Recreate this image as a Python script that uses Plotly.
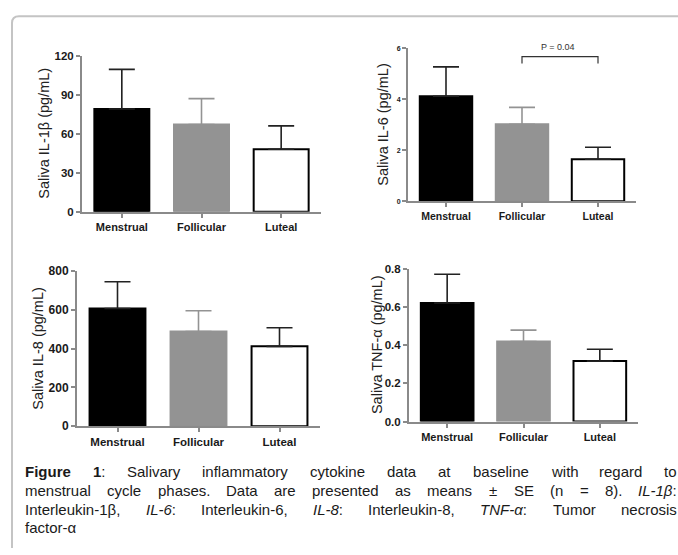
import re
import plotly.graph_objects as go

W, H = 678, 555

phases = ["Menstrual", "Follicular", "Luteal"]

il1b_mean = [79, 67, 48]
il1b_se = [30.5, 20, 18]
il6_mean = [4.12, 3.02, 1.65]
il6_se = [1.15, 0.66, 0.47]
il8_mean = [607, 488, 412]
il8_se = [138, 108, 96]
tnfa_mean = [0.62, 0.418, 0.316]
tnfa_se = [0.15, 0.06, 0.062]

il1b_ticks = [0, 30, 60, 90, 120]
il6_ticks = [0, 2, 4, 6]
il8_ticks = [0, 200, 400, 600, 800]
tnfa_ticks = [0.0, 0.2, 0.4, 0.6, 0.8]

p_label = "P = 0.04"

caption_lines = [
    "<b>Figure</b> <b>1</b>: Salivary inflammatory cytokine data at baseline with regard to",
    "menstrual cycle phases. Data are presented as means ± SE (n = 8). <i>IL-1β</i>:",
    "Interleukin-1β, <i>IL-6</i>: Interleukin-6, <i>IL-8</i>: Interleukin-8, <i>TNF-α</i>: Tumor necrosis",
    "factor-α",
]

fill_colors = ["#000000", "#939393", "#ffffff"]
line_colors = ["#000000", "#939393", "#000000"]
err_colors = ["#222222", "#939393", "#222222"]


def px(x):
    return x / W


def py(y):
    return 1 - y / H


panels = [
    dict(mean=il1b_mean, se=il1b_se, ticks=il1b_ticks, rng=[0, 120], fmt="",
         xd=(82, 321), yd=(50, 210), title="Saliva IL-1β (pg/mL)", tx=44,
         tickfs=11.5, catfs=11),
    dict(mean=il6_mean, se=il6_se, ticks=il6_ticks, rng=[0, 6], fmt="",
         xd=(408, 636), yd=(42.3, 199.3), title="Saliva IL-6 (pg/mL)", tx=383,
         tickfs=7, catfs=10.5),
    dict(mean=il8_mean, se=il8_se, ticks=il8_ticks, rng=[0, 800], fmt="",
         xd=(77, 320), yd=(271, 430), title="Saliva IL-8 (pg/mL)", tx=38,
         tickfs=12, catfs=11.5),
    dict(mean=tnfa_mean, se=tnfa_se, ticks=tnfa_ticks, rng=[0, 0.8], fmt=".1f",
         xd=(409, 638), yd=(268.3, 425.3), title="Saliva TNF-α (pg/mL)", tx=377,
         tickfs=11.5, catfs=11),
]

fig = go.Figure()
layout = dict(
    width=W, height=H, margin=dict(l=0, r=0, t=0, b=0),
    paper_bgcolor="white", plot_bgcolor="white",
    barmode="overlay", showlegend=False,
    font=dict(family="Liberation Sans, Arial, sans-serif", color="#222222"),
)
annotations = []
shapes = []

axis_col = "#8a8a8a"
for i, p in enumerate(panels):
    n = i + 1
    xa = "x" if n == 1 else f"x{n}"
    ya = "y" if n == 1 else f"y{n}"
    for j, ph in enumerate(phases):
        fig.add_trace(go.Bar(
            x=[ph], y=[p["mean"][j]], xaxis=xa, yaxis=ya, width=0.69,
            marker=dict(color=fill_colors[j], line=dict(color=line_colors[j], width=2)),
            error_y=dict(type="data", symmetric=False, array=[p["se"][j]], arrayminus=[0],
                         color=err_colors[j], thickness=1.6, width=13),
            hoverinfo="skip",
        ))
    layout["xaxis" if n == 1 else f"xaxis{n}"] = dict(
        domain=[px(p["xd"][0]), px(p["xd"][1])], anchor=ya,
        type="category", categoryorder="array", categoryarray=phases,
        range=[-0.5, 2.5], showline=True, linecolor=axis_col, linewidth=2,
        ticks="outside", ticklen=4, tickwidth=1.5, tickcolor=axis_col,
        showgrid=False, zeroline=False,
        tickfont=dict(size=p["catfs"], weight="bold", color="#1a1a1a"),
    )
    layout["yaxis" if n == 1 else f"yaxis{n}"] = dict(
        domain=[py(p["yd"][1]), py(p["yd"][0])], anchor=xa,
        range=p["rng"], tickvals=p["ticks"], tickformat=p["fmt"],
        showline=True, linecolor=axis_col, linewidth=2,
        ticks="outside", ticklen=4, tickwidth=1.5, tickcolor=axis_col,
        showgrid=False, zeroline=False,
        tickfont=dict(size=p["tickfs"], weight="bold", color="#1a1a1a"),
    )
    annotations.append(dict(
        text=p["title"], xref="paper", yref="paper",
        x=px(p["tx"]), y=py((p["yd"][0] + p["yd"][1]) / 2),
        textangle=-90, showarrow=False, font=dict(size=14.5, color="#222222"),
        xanchor="center", yanchor="middle",
    ))

# significance bracket on IL-6 panel
b_top, b_bot = 5.67, 5.4
shapes.append(dict(type="path", xref="x2", yref="y2",
                   path=f"M 1,{b_bot} L 1,{b_top} L 2,{b_top} L 2,{b_bot}",
                   line=dict(color="#333333", width=1.2)))
annotations.append(dict(text=p_label, xref="x2", yref="y2", x=1.47, y=b_top + 0.12,
                        yanchor="bottom", showarrow=False,
                        font=dict(size=9, color="#333333")))

# frame with rounded corner
r = 7
x0, y0 = 12, 9.5
path = (f"M {px(x0)},{py(H)} L {px(x0)},{py(y0 + r)} "
        f"Q {px(x0)},{py(y0)} {px(x0 + r)},{py(y0)} L {px(W)},{py(y0)}")
shapes.append(dict(type="path", xref="paper", yref="paper", path=path,
                   line=dict(color="#c4c4c4", width=2)))

# Arial / Liberation Sans advance widths (per 1000 em), used to justify the caption
REG = {' ': 278, ',': 278, '-': 333, '.': 278, ':': 278, '(': 333, ')': 333, '=': 584,
       '±': 584, 'β': 575, 'α': 579, '0': 556, '1': 556, '6': 556, '8': 556,
       'D': 722, 'E': 667, 'F': 611, 'I': 278, 'L': 556, 'N': 722, 'S': 667, 'T': 611,
       'a': 556, 'b': 556, 'c': 500, 'd': 556, 'e': 556, 'f': 278, 'g': 556, 'h': 556,
       'i': 222, 'k': 500, 'l': 222, 'm': 833, 'n': 556, 'o': 556, 'p': 556, 'r': 333,
       's': 500, 't': 278, 'u': 556, 'v': 500, 'w': 722, 'y': 500, 'z': 500}
BOLD = {'F': 611, 'i': 278, 'g': 611, 'u': 611, 'r': 389, 'e': 556, '1': 556}


def word_width(word, size):
    bold = False
    total = 0
    for tok in re.split(r"(<[^>]+>)", word):
        if tok.startswith("<"):
            if tok == "<b>":
                bold = True
            elif tok == "</b>":
                bold = False
            continue
        for ch in tok:
            total += (BOLD.get(ch, REG.get(ch, 556)) if bold else REG.get(ch, 556))
    return total * size / 1000.0


cap_size = 15
cap_left, cap_right = 23, 675
cap_mid = [476.5, 495.7, 515, 533.5]
cap_font = dict(size=cap_size, color="#1a1a1a", family="Liberation Sans, Arial, sans-serif")
for li, (line, ym) in enumerate(zip(caption_lines, cap_mid)):
    words = line.split(" ")
    widths = [word_width(w, cap_size) for w in words]
    last = li == len(caption_lines) - 1
    if last or len(words) == 1:
        gap = word_width(" ", cap_size)
    else:
        gap = (cap_right - cap_left - sum(widths)) / (len(words) - 1)
    xpos = cap_left
    for w, wd in zip(words, widths):
        annotations.append(dict(text=w, xref="paper", yref="paper", x=px(xpos), y=py(ym),
                                xanchor="left", yanchor="middle", showarrow=False,
                                font=cap_font))
        xpos += wd + gap

layout["annotations"] = annotations
layout["shapes"] = shapes
fig.update_layout(**layout)
fig.write_html("out.html", post_script="document.body.style.margin='0px';",
               config={"displayModeBar": False})
